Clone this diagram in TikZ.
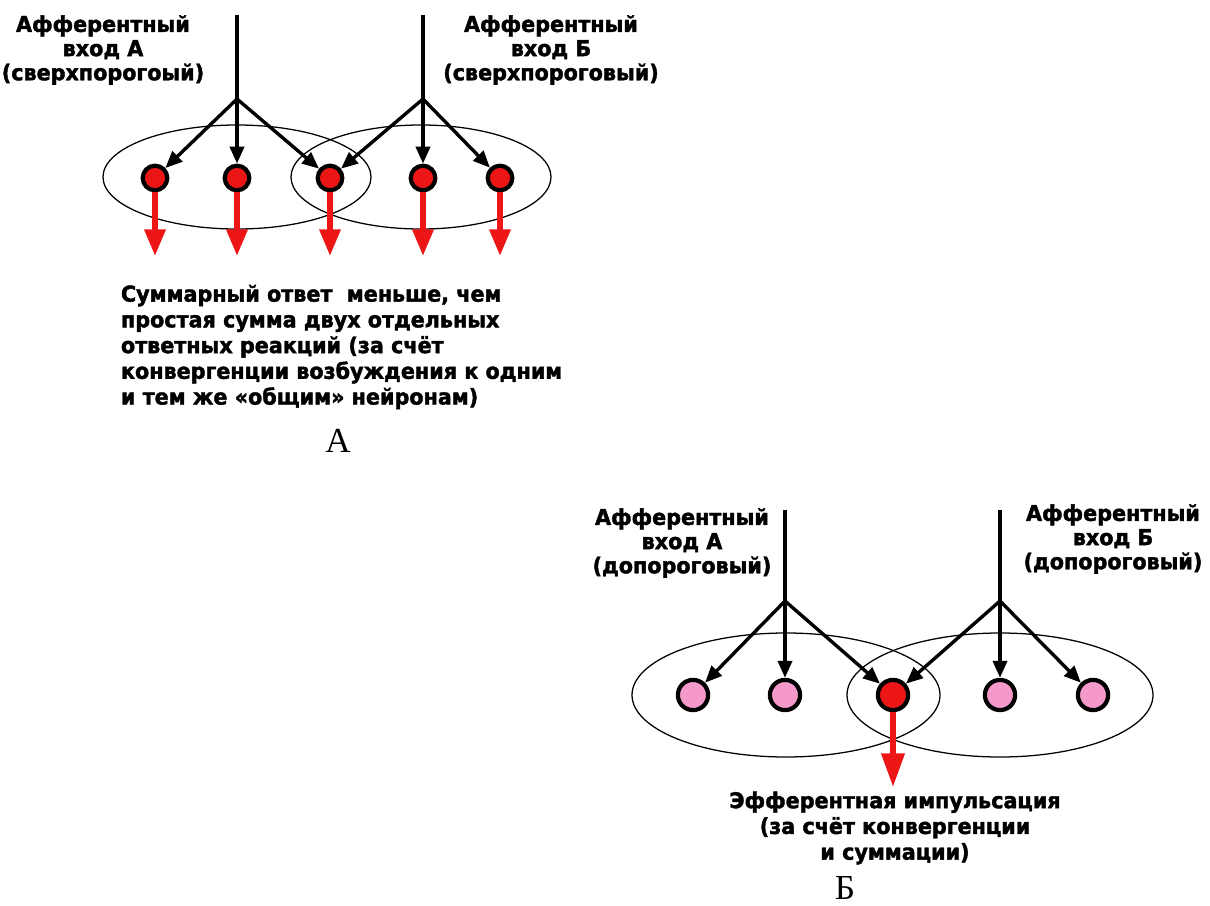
\documentclass[tikz,border=0pt]{standalone}
\usepackage{fontspec}
\setmainfont{DejaVu Sans}[BoldFeatures={FakeBold=1.8,FakeStretch=0.95}]
\newfontfamily\partfont{Liberation Serif}
\usepackage{tikz}
\usetikzlibrary{arrows.meta}
\definecolor{neured}{RGB}{236,22,22}
\definecolor{neupink}{RGB}{245,152,202}

\begin{document}
\begin{tikzpicture}[x=0.025cm,y=-0.025cm,
  inlabel/.style={font=\bfseries\fontsize{15.5}{17.2}\selectfont,align=center},
  note/.style={font=\bfseries\fontsize{15.5}{18.3}\selectfont},
  partlabel/.style={font=\partfont\fontsize{25}{27}\selectfont},
  neuron/.style={circle,draw=black,line width=3pt,inner sep=0pt},
  neuA/.style={neuron,fill=neured,minimum size=17.5pt},
  neuB/.style={neuron,minimum size=21.5pt},
  feed/.style={line width=2.4pt,-{Triangle[length=12pt,width=10pt]}},
  trunk/.style={line width=2.4pt},
  fire/.style={draw=neured,line width=4pt,-{Triangle[length=19pt,width=14.5pt]}},
  field/.style={line width=0.9pt}]
\useasboundingbox (0,0) rectangle (1210,906);

\draw[field] (237,177) ellipse [x radius=134, y radius=52];
\draw[field] (421,177) ellipse [x radius=130, y radius=52];

\node[neuA] (nA1) at (155,178) {};
\node[neuA] (nA2) at (237,178) {};
\node[neuA] (nA3) at (330,178) {};
\node[neuA] (nA4) at (423,178) {};
\node[neuA] (nA5) at (500,178) {};

\coordinate (topA1) at (237,15);
\coordinate (topA2) at (423,15);
\coordinate (brA1) at (237,99);
\coordinate (brA2) at (423,99);
\draw[trunk] (topA1) -- (brA1);
\draw[trunk] (topA2) -- (brA2);
\draw[feed] (brA1) -- (nA1);
\draw[feed] (brA1) -- (nA2);
\draw[feed] (brA1) -- (nA3);
\draw[feed] (brA2) -- (nA3);
\draw[feed] (brA2) -- (nA4);
\draw[feed] (brA2) -- (nA5);

\coordinate (outA1) at (155,256);
\coordinate (outA2) at (237,256);
\coordinate (outA3) at (330,256);
\coordinate (outA4) at (423,256);
\coordinate (outA5) at (500,256);
\draw[fire] (nA1) -- (outA1);
\draw[fire] (nA2) -- (outA2);
\draw[fire] (nA3) -- (outA3);
\draw[fire] (nA4) -- (outA4);
\draw[fire] (nA5) -- (outA5);

\node[inlabel] (labA1) at (103,50) {Афферентный\\вход А\\(сверхпорогоый)};
\node[inlabel] (labA2) at (551,50) {Афферентный\\вход Б\\(сверхпороговый)};
\node[note,align=left,anchor=west] (sumA) at (116,347) {Суммарный ответ~ меньше, чем\\простая сумма двух отдельных\\ответных реакций (за счёт\\конвергенции возбуждения к одним\\и тем же «общим» нейронам)};
\node[partlabel] (partA) at (338,441) {А};

\draw[field] (786,695) ellipse [x radius=154, y radius=62];
\draw[field] (1000,695) ellipse [x radius=153, y radius=62];

\node[neuB,fill=neupink] (nB1) at (693,695) {};
\node[neuB,fill=neupink] (nB2) at (785,695) {};
\node[neuB,fill=neured] (nB3) at (893,695) {};
\node[neuB,fill=neupink] (nB4) at (1000,695) {};
\node[neuB,fill=neupink] (nB5) at (1093,695) {};

\coordinate (topB1) at (785,510);
\coordinate (topB2) at (1000,510);
\coordinate (brB1) at (785,601);
\coordinate (brB2) at (1000,601);
\draw[trunk] (topB1) -- (brB1);
\draw[trunk] (topB2) -- (brB2);
\draw[feed] (brB1) -- (nB1);
\draw[feed] (brB1) -- (nB2);
\draw[feed] (brB1) -- (nB3);
\draw[feed] (brB2) -- (nB3);
\draw[feed] (brB2) -- (nB4);
\draw[feed] (brB2) -- (nB5);

\coordinate (outB3) at (893,787);
\draw[fire,-{Triangle[length=24pt,width=16pt]}] (nB3) -- (outB3);

\node[inlabel] (labB1) at (682,543) {Афферентный\\вход А\\(допороговый)};
\node[inlabel] (labB2) at (1113,539) {Афферентный\\вход Б\\(допороговый)};
\node[note,align=center] (sumB) at (895,828) {Эфферентная импульсация\\(за счёт конвергенции\\и суммации)};
\node[partlabel] (partB) at (845,888) {Б};
\end{tikzpicture}
\end{document}
